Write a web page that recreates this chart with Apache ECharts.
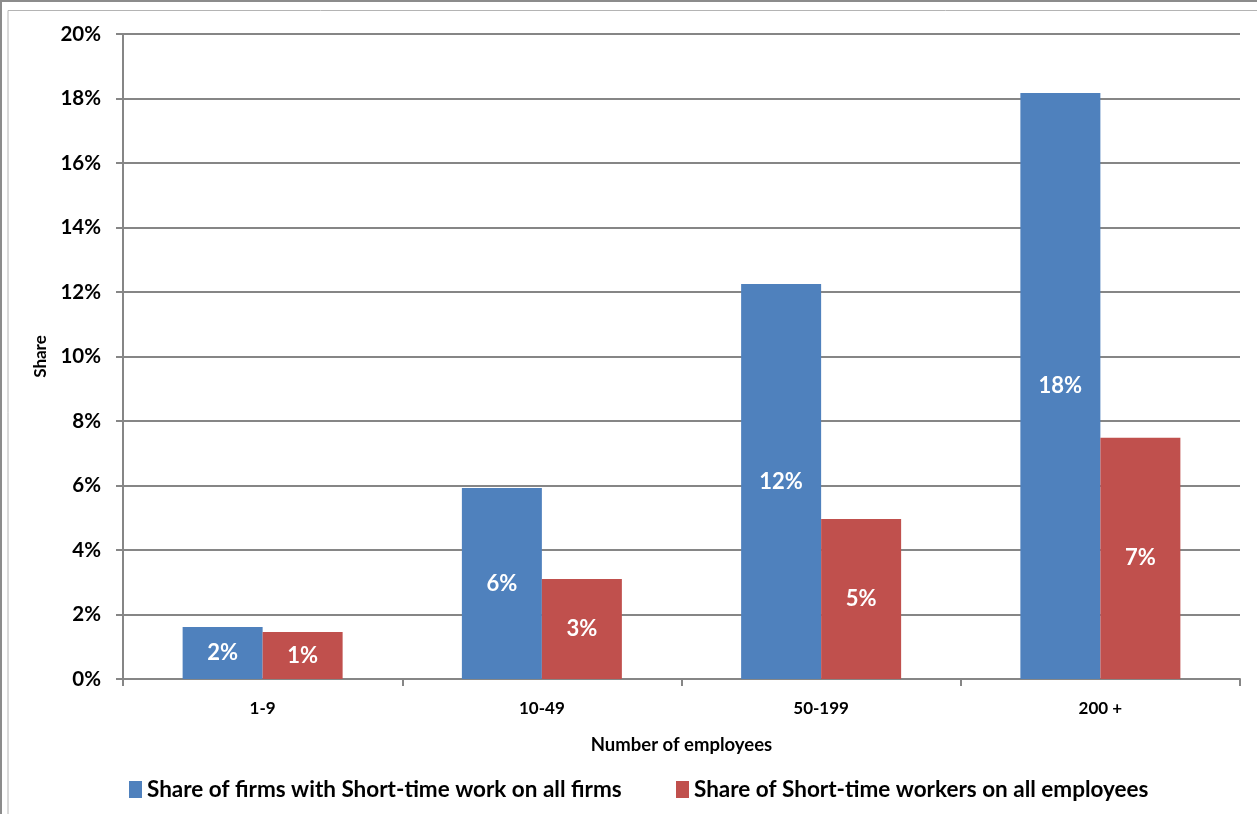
<!DOCTYPE html>
<html>
<head>
<meta charset="utf-8">
<script src="https://cdn.jsdelivr.net/npm/echarts@6/dist/echarts.min.js"></script>
<style>
html,body{margin:0;padding:0;background:#fff;}
#c{width:1257px;height:814px;}
</style>
</head>
<body>
<div id="c"></div>
<script>
const categories = ['1-9', '10-49', '50-199', '200 +'];
const seriesNames = ['Share of firms with Short-time work on all firms', 'Share of Short-time workers on all employees'];
const firmsShare = [1.61, 5.92, 12.25, 18.17];
const workersShare = [1.46, 3.10, 4.96, 7.48];
const yTicks = { min: 0, max: 20, interval: 2 };

const FONT = 'Lato';
const chart = echarts.init(document.getElementById('c'), null, { renderer: 'canvas' });

const labelCfg = {
  show: true,
  position: 'inside',
  color: '#fff',
  fontFamily: FONT,
  fontWeight: 'bold',
  fontSize: 22,
  formatter: p => Math.round(p.value) + '%'
};

const legendText = { fontFamily: FONT, fontWeight: 'bold', fontSize: 22.5, color: '#000' };

chart.setOption({
  animation: false,
  backgroundColor: '#fff',
  textStyle: { fontFamily: FONT },
  graphic: [
    { type: 'rect', shape: { x: 1, y: 1, width: 1300, height: 900 }, style: { fill: 'none', stroke: '#8c8c8c', lineWidth: 2 }, silent: true },
    { type: 'rect', shape: { x: 8, y: 10.5, width: 1300, height: 900 }, style: { fill: 'none', stroke: '#b4b4b4', lineWidth: 1 }, silent: true }
  ],
  grid: { left: 123, right: 17, top: 34, bottom: 135, containLabel: false },
  legend: [
    {
      data: [seriesNames[0]], left: 129, top: 778, padding: 0,
      itemWidth: 13, itemHeight: 17, icon: 'rect', itemGap: 0,
      textStyle: legendText
    },
    {
      data: [seriesNames[1]], left: 676, top: 778, padding: 0,
      itemWidth: 13, itemHeight: 17, icon: 'rect', itemGap: 0,
      textStyle: legendText
    }
  ],
  xAxis: {
    type: 'category',
    data: categories,
    name: 'Number of employees',
    nameLocation: 'middle',
    nameGap: 57,
    nameTextStyle: { fontFamily: FONT, fontWeight: 'bold', fontSize: 18.5, color: '#000' },
    axisLine: { show: true, lineStyle: { color: '#868686', width: 2 } },
    axisTick: { show: true, length: 7, alignWithLabel: false, lineStyle: { color: '#868686', width: 2 } },
    axisLabel: { fontFamily: FONT, fontWeight: 'bold', fontSize: 17, color: '#000', margin: 21 },
    splitLine: { show: false }
  },
  yAxis: {
    type: 'value',
    min: yTicks.min, max: yTicks.max, interval: yTicks.interval,
    name: 'Share',
    nameLocation: 'middle',
    nameGap: 74,
    nameRotate: 90,
    nameTextStyle: { fontFamily: FONT, fontWeight: 'bold', fontSize: 17, color: '#000' },
    axisLine: { show: true, lineStyle: { color: '#868686', width: 2 } },
    axisTick: { show: true, length: 7, lineStyle: { color: '#868686', width: 2 } },
    axisLabel: { fontFamily: FONT, fontWeight: 'bold', fontSize: 20.5, color: '#000', margin: 22, formatter: '{value}%' },
    splitLine: { show: true, lineStyle: { color: '#868686', width: 2 } }
  },
  series: [
    {
      name: seriesNames[0], type: 'bar', data: firmsShare,
      barWidth: 80, barGap: '0%',
      itemStyle: { color: '#4F81BD' },
      label: labelCfg
    },
    {
      name: seriesNames[1], type: 'bar', data: workersShare,
      barWidth: 80, barGap: '0%',
      itemStyle: { color: '#C0504D' },
      label: labelCfg
    }
  ]
});
</script>
</body>
</html>
